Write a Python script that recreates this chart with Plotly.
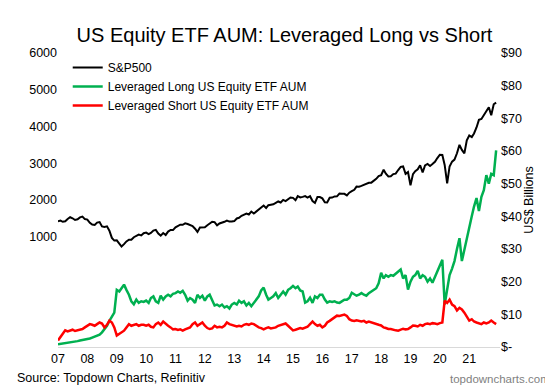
import pandas as pd
import plotly.graph_objects as go

dates = pd.date_range("2007-01-01", "2021-12-01", freq="MS")

sp500 = [
    1418, 1438, 1407, 1421, 1482, 1531, 1503, 1455, 1474, 1527, 1549, 1481,
    1468, 1379, 1331, 1323, 1386, 1400, 1280, 1267, 1283, 1166, 969, 896,
    903, 826, 735, 798, 873, 919, 919, 987, 1021, 1057, 1036, 1096,
    1115, 1074, 1104, 1169, 1187, 1089, 1031, 1102, 1049, 1141, 1183, 1181,
    1258, 1286, 1327, 1326, 1364, 1345, 1321, 1292, 1219, 1131, 1253, 1247,
    1258, 1312, 1366, 1408, 1398, 1310, 1362, 1379, 1407, 1441, 1412, 1416,
    1426, 1498, 1515, 1569, 1598, 1631, 1606, 1686, 1633, 1682, 1757, 1806,
    1848, 1783, 1859, 1872, 1884, 1924, 1960, 1931, 2003, 1972, 2018, 2068,
    2059, 1995, 2105, 2068, 2086, 2107, 2063, 2104, 1972, 1920, 2079, 2080,
    2044, 1940, 1932, 2060, 2065, 2097, 2099, 2174, 2171, 2168, 2126, 2199,
    2239, 2279, 2364, 2363, 2384, 2412, 2423, 2470, 2472, 2519, 2575, 2648,
    2674, 2824, 2714, 2641, 2648, 2705, 2718, 2816, 2902, 2914, 2712, 2760,
    2400, 2704, 2784, 2834, 2946, 2752, 2942, 2980, 2926, 2977, 3038, 3141,
    3231, 3226, 2954, 2450, 2912, 3044, 3100, 3271, 3500, 3363, 3270, 3622,
    3756, 3714, 3811, 3973, 4181, 4204, 4298, 4395, 4523, 4308, 4605, 4650,
]

lev_long = [
    0.8, 0.9, 1.0, 1.1, 1.3, 1.4, 1.5, 1.6, 1.8, 2.0, 2.1, 2.3,
    2.4, 2.6, 2.9, 3.2, 3.5, 3.8, 4.5, 5.5, 6.5, 8.0, 9.5, 10.5,
    17.5, 17.0, 18.0, 19.1, 17.5, 16.0, 14.0, 13.1, 14.5, 13.5, 14.0, 13.8,
    14.2, 13.5, 15.0, 15.5, 14.0, 13.5, 15.7, 14.5, 15.5, 16.0, 15.5, 16.3,
    16.5, 17.0, 16.6, 17.2, 16.0, 14.2, 15.0, 14.5, 13.5, 16.0, 15.0, 15.7,
    14.2, 15.5, 16.0, 14.5, 12.7, 13.0, 12.5, 13.0, 12.1, 12.5, 11.8, 13.0,
    13.5, 13.0, 14.2, 13.5, 14.0, 12.7, 13.5, 12.5, 13.5, 14.5, 15.5, 17.3,
    18.2, 16.0, 14.5, 15.0, 15.5, 16.5, 15.0, 16.0, 17.0, 16.0, 17.5, 18.0,
    18.7, 18.0, 18.5, 17.3, 17.0, 13.6, 14.0, 15.1, 13.5, 15.5, 15.0, 16.0,
    16.0, 14.5, 13.6, 14.0, 13.8, 14.0, 13.6, 13.5, 14.0, 14.5, 14.5, 15.0,
    16.6, 16.0, 15.7, 16.0, 16.5, 16.0, 15.7, 16.5, 17.0, 17.3, 18.0, 19.5,
    22.7, 21.0, 22.0, 21.5, 22.0, 21.8, 22.5, 23.0, 23.7, 21.0, 22.0, 17.6,
    20.0, 21.5, 22.0, 23.3, 21.0, 22.0, 21.5, 20.0, 21.0, 19.7, 21.5, 23.0,
    25.0, 26.7, 13.0, 18.0, 22.0, 24.0, 26.3, 30.0, 33.3, 26.3, 30.0, 33.0,
    36.4, 40.0, 43.0, 45.6, 41.6, 46.0, 48.0, 52.6, 50.0, 53.0, 52.6, 60.2,
]

lev_short = [
    2.0, 3.0, 4.0, 5.1, 4.8, 5.0, 5.3, 4.9, 5.1, 5.1, 5.5, 6.0,
    6.5, 7.0, 6.8, 6.5, 7.0, 7.5, 7.2, 6.0, 6.8, 8.1, 7.5, 6.0,
    3.5, 4.0, 4.4, 5.0, 6.0, 7.0, 6.5, 6.8, 7.0, 6.5, 6.8, 6.8,
    6.5, 6.8, 6.2, 6.0, 7.0, 7.5, 6.8, 7.8, 7.0, 6.5, 6.0, 5.4,
    5.5, 5.2, 5.4, 5.0, 5.4, 5.8, 6.0, 7.0, 7.5, 6.5, 7.0, 7.5,
    6.5, 5.8, 5.5, 5.7, 6.5, 6.0, 6.2, 6.0, 6.5, 7.5, 7.0, 6.8,
    6.5, 6.3, 6.5, 6.3, 6.8, 7.0, 6.8, 7.2, 7.0, 6.5, 6.0, 5.8,
    5.4, 5.8, 6.0, 5.7, 5.8, 6.0, 6.5, 6.8, 7.0, 7.2, 6.5, 5.8,
    5.1, 5.3, 5.5, 5.8, 5.6, 6.0, 6.2, 7.0, 7.8, 7.0, 6.5, 6.8,
    6.0, 6.5, 7.5, 8.0, 8.5, 9.0, 9.6, 9.5, 9.8, 9.9, 9.5, 8.5,
    8.1, 8.0, 8.2, 8.0, 7.8, 8.0, 7.5, 7.8, 7.5, 7.2, 7.0, 6.8,
    6.6, 6.0, 5.8, 5.5, 5.5, 5.2, 5.1, 5.0, 5.2, 5.6, 5.4, 5.5,
    6.0, 6.6, 6.5, 6.3, 6.8, 6.5, 7.0, 7.2, 7.0, 7.3, 7.2, 7.0,
    7.3, 7.5, 14.2, 13.5, 14.5, 13.0, 12.5, 11.2, 12.0, 11.5, 10.5, 9.5,
    8.1, 8.5, 7.8, 7.5, 7.2, 7.0, 7.5, 7.2, 7.5, 8.1, 7.5, 7.0,
]

year_ticks = [f"{y}-01-01" for y in range(2007, 2022)]
year_labels = [f"{y % 100:02d}" for y in range(2007, 2022)]
left_ticks = [1000, 2000, 3000, 4000, 5000, 6000]
right_ticks = list(range(0, 100, 10))
right_labels = ["$-"] + [f"${v}" for v in right_ticks[1:]]

FONT = "Arial, Liberation Sans, sans-serif"

fig = go.Figure()
fig.add_trace(go.Scatter(x=dates, y=sp500, name="S&P500", mode="lines",
                         line=dict(color="#000000", width=2), yaxis="y"))
fig.add_trace(go.Scatter(x=dates, y=lev_long, name="Leveraged Long US Equity ETF AUM",
                         mode="lines", line=dict(color="#00B050", width=2.5), yaxis="y2"))
fig.add_trace(go.Scatter(x=dates, y=lev_short, name="Leveraged Short US Equity ETF AUM",
                         mode="lines", line=dict(color="#FF0000", width=2.5), yaxis="y2"))

fig.update_layout(
    width=553, height=389,
    margin=dict(l=50, r=61, t=45, b=50),
    paper_bgcolor="white", plot_bgcolor="white",
    font=dict(family=FONT, color="#000000", size=12),
    title=dict(text="US Equity ETF AUM: Leveraged Long vs Short", x=0.5, xanchor="center",
               y=1 - 27 / 389, yanchor="middle", yref="container",
               font=dict(size=20, color="#000000", family=FONT)),
    showlegend=True,
    legend=dict(x=0.022, y=1.0, xanchor="left", yanchor="top",
                bgcolor="rgba(0,0,0,0)", font=dict(size=12, color="#000000"),
                itemwidth=30, traceorder="normal"),
    xaxis=dict(range=["2007-01-01", "2022-01-18"], tickmode="array",
               tickvals=year_ticks, ticktext=year_labels, showgrid=False,
               showline=True, linecolor="#D9D9D9", linewidth=1, ticks="",
               tickfont=dict(size=12.5), zeroline=False),
    yaxis=dict(range=[-2000, 6000], tickmode="array", tickvals=left_ticks,
               showgrid=False, zeroline=False, showline=False, ticks="",
               tickfont=dict(size=12.5)),
    yaxis2=dict(range=[0, 90], overlaying="y", side="right", tickmode="array",
                tickvals=right_ticks, ticktext=right_labels, showgrid=False,
                zeroline=False, showline=False, ticks="",
                tickfont=dict(size=12.5),
                title=dict(text="US$ Billions", font=dict(size=12.5), standoff=0)),
    annotations=[
        dict(text="Source: Topdown Charts, Refinitiv", xref="paper", yref="paper",
             x=(7 - 50) / 442, y=(339 - 370) / 294, xanchor="left", yanchor="middle",
             showarrow=False, font=dict(size=12.5, color="#000000")),
        dict(text="topdowncharts.com", xref="paper", yref="paper",
             x=(544 - 50) / 442, y=(339 - 371) / 294, xanchor="right", yanchor="middle",
             showarrow=False, font=dict(size=11.5, color="#7F7F7F")),
    ],
)

fig.write_html("out.html")
